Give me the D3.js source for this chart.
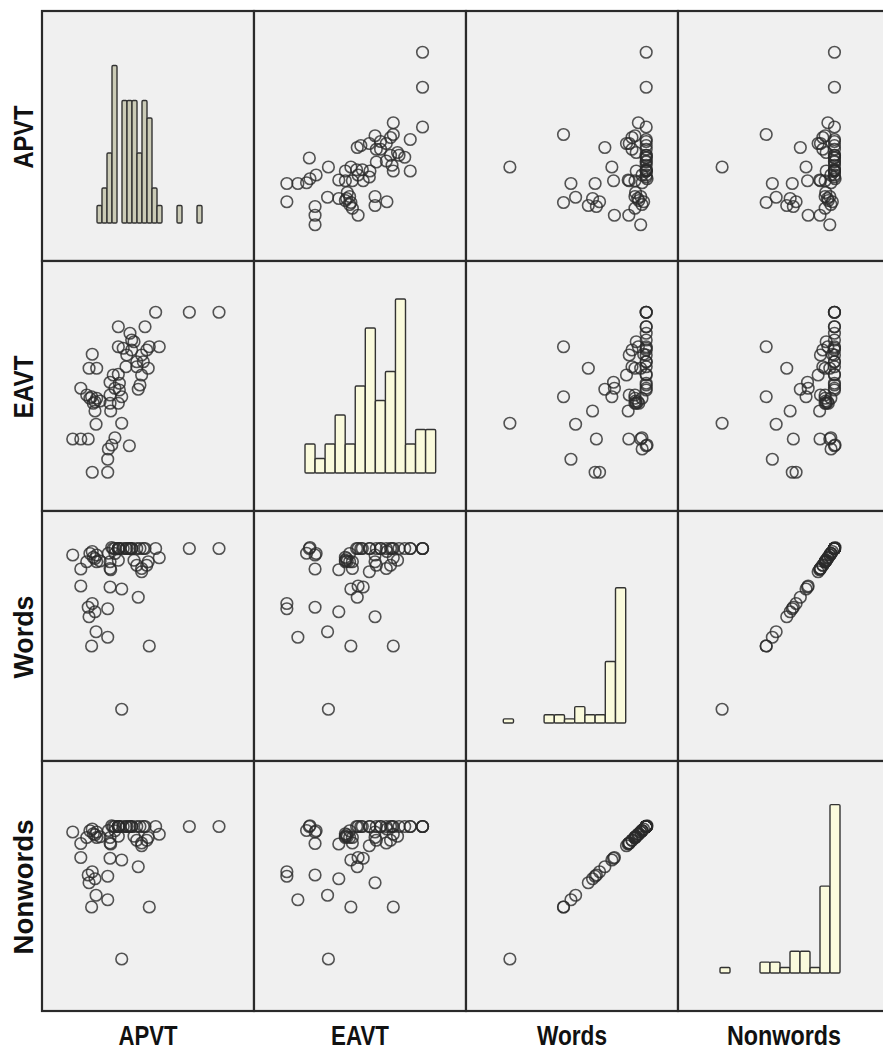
<!DOCTYPE html>
<html>
<head>
<meta charset="utf-8">
<script src="https://cdn.jsdelivr.net/npm/d3@7"></script>
<style>
  body { margin: 0; background: #fff; }
  svg { display: block; }
  .lab { font-family: "Liberation Sans", Arial, sans-serif; font-weight: bold; fill: #111; }
</style>
</head>
<body>
<svg id="chart" width="883" height="1050"></svg>
<script>
// variable names (rows top->bottom, columns left->right)
const variables = ['APVT', 'EAVT', 'Words', 'Nonwords'];

// one value per subject, same order in every array (0-100 score scale)
const apvt = [53.6, 69.5, 83.5, 36, 48.6, 41.5, 43.4, 36, 50.6, 55.3,
  40, 47, 23.7, 22.2, 25.8, 39.6, 44.7, 50.1, 36, 47,
  32.1, 36.5, 18.3, 45.4, 36.5, 21.1, 23.4, 25.8, 32.1, 37.6,
  24.2, 32.1, 36, 25, 32.4, 25.5, 37.6, 14.5, 18.3, 21.8,
  34.4, 32.9, 41.2, 31, 23.7, 31, 22.6, 27.4, 42.3, 44.7,
  33.6, 38.3, 47.8, 34.4, 46.2, 42.3, 25, 31.3, 49.4];
const eavt = [79.5, 79.5, 79.5, 73.7, 73.7, 71.1, 67.7, 65.7, 65.7, 65.7,
  62.4, 62.4, 62.7, 57.1, 57.1, 57.7, 57.7, 57.1, 54.7, 54.4,
  51.5, 51.1, 49.1, 48.7, 48.4, 46.4, 45.7, 45.1, 46.4, 45.7,
  43.1, 43.1, 43.1, 40, 40, 34.7, 35.1, 28.8, 28.8, 28.8,
  29.3, 26.4, 26.1, 20.7, 15.5, 15.5, 45.1, 44, 64.4, 59.7,
  54.4, 65.1, 59.7, 49.1, 50.4, 68.4, 43.7, 24.8, 64.4];
const words = [85, 85, 85, 85, 85, 85, 80.3, 85, 46, 81.3,
  85, 77, 83.8, 57.7, 82.4, 85, 78.3, 79.7, 85, 75.7,
  69.6, 85, 70, 65.5, 85, 79.7, 46, 79.7, 77, 68.8,
  81.5, 79.7, 80.3, 59.7, 76.5, 51.7, 20.7, 82.4, 76.8, 61.5,
  83, 85.4, 85, 49.5, 63, 60.9, 83, 80, 85, 85,
  85, 85, 85, 85, 85, 85, 81, 83.1, 78.3];
const nonwords = [73.8, 73.8, 73.8, 73.8, 73.8, 73.8, 69.9, 73.8, 41.6, 70.7,
  73.8, 67.2, 72.8, 51.3, 71.6, 73.8, 68.3, 69.4, 73.8, 66.1,
  61.1, 73.8, 61.4, 57.7, 73.8, 69.4, 41.6, 69.4, 67.2, 60.4,
  70.9, 69.4, 69.9, 52.9, 66.8, 46.3, 20.8, 71.6, 67.0, 54.4,
  72.1, 74.1, 73.8, 44.5, 55.7, 53.9, 72.1, 69.7, 73.8, 73.8,
  73.8, 73.8, 73.8, 73.8, 73.8, 73.8, 70.5, 72.2, 68.3];

// histogram counts on the diagonal (one entry per bin)
const apvtCounts = [1, 2, 4, 9, 0, 7, 7, 7, 4, 7, 6, 2, 1, 0, 0, 0, 1, 0, 0, 0, 1];
const eavtCounts = [2, 1, 2, 4, 2, 6, 10, 5, 7, 12, 2, 3, 3];
const wordsCounts = [1, 0, 0, 0, 2, 2, 1, 4, 2, 2, 15, 33];
const nonwordsCounts = [1, 0, 0, 0, 2, 2, 1, 4, 4, 1, 16, 31];

const series = [apvt, eavt, words, nonwords];
const counts = [apvtCounts, eavtCounts, wordsCounts, nonwordsCounts];

// layout
const padLeft = 42, padTop = 11, cellW = 212, cellH = 250;
const baseY = 212;
// per histogram: first bar x, bar width, pixels per count, bar fill
const histStyle = [
  { x0: 55, bw: 5, unit: 17.5, fill: '#cbcbb6' },
  { x0: 51, bw: 10.05, unit: 14.5, fill: '#fafadc' },
  { x0: 37.3, bw: 10.2, unit: 4.1, fill: '#fafadc' },
  { x0: 42, bw: 10, unit: 5.43, fill: '#fafadc' }
];

const svg = d3.select('#chart');
svg.append('rect').attr('width', 883).attr('height', 1050).attr('fill', '#fff');

const x = d3.scaleLinear().domain([0, 100]).range([0, cellW]);
const y = d3.scaleLinear().domain([0, 100]).range([cellH, 0]);

for (let i = 0; i < 4; i++) {
  for (let j = 0; j < 4; j++) {
    let g = svg.append('g')
      .attr('transform', `translate(${padLeft + j * cellW},${padTop + i * cellH})`);

    g.append('rect')
      .attr('width', cellW).attr('height', cellH)
      .attr('fill', '#f0f0f0');

    if (i === j) {
      let hs = histStyle[i];
      let c = counts[i];
      let hx = d3.scaleLinear().domain([0, c.length]).range([hs.x0, hs.x0 + hs.bw * c.length]);
      let hy = d3.scaleLinear().domain([0, 10]).range([baseY, baseY - 10 * hs.unit]);
      g.selectAll('rect.bar')
        .data(c.map((v, k) => ({ k: k, v: v })).filter(d => d.v > 0))
        .enter().append('rect')
        .attr('class', 'bar')
        .attr('x', d => hx(d.k))
        .attr('y', d => hy(d.v))
        .attr('width', d => hx(d.k + 1) - hx(d.k))
        .attr('height', d => hy(0) - hy(d.v))
        .attr('rx', 1.2)
        .attr('fill', hs.fill)
        .attr('stroke', '#333')
        .attr('stroke-width', 1.4);
    } else {
      let xs = series[j], ys = series[i];
      g.selectAll('circle')
        .data(xs.map((v, k) => [v, ys[k]]))
        .enter().append('circle')
        .attr('cx', d => x(d[0]))
        .attr('cy', d => y(d[1]))
        .attr('r', 5.8)
        .attr('fill', 'none')
        .attr('stroke', '#2a2a2a')
        .attr('stroke-opacity', 0.8)
        .attr('stroke-width', 1.6);
    }

    g.append('rect')
      .attr('width', cellW).attr('height', cellH)
      .attr('fill', 'none')
      .attr('stroke', '#2a2a2a')
      .attr('stroke-width', 2.2);
  }
}

// column labels
const colLen = [59, 58, 70, 114];
svg.selectAll('text.col')
  .data(variables)
  .enter().append('text')
  .attr('class', 'lab col')
  .attr('x', (d, j) => padLeft + j * cellW + cellW / 2)
  .attr('y', 1045)
  .attr('text-anchor', 'middle')
  .attr('font-size', 28)
  .attr('textLength', (d, j) => colLen[j])
  .attr('lengthAdjust', 'spacingAndGlyphs')
  .text(d => d);

// row labels
const rowLen = [63, 63, 83, 135];
svg.selectAll('text.row')
  .data(variables)
  .enter().append('text')
  .attr('class', 'lab row')
  .attr('transform', (d, i) => `translate(33,${padTop + i * cellH + cellH / 2 + 1}) rotate(-90)`)
  .attr('text-anchor', 'middle')
  .attr('font-size', 27)
  .attr('textLength', (d, i) => rowLen[i])
  .attr('lengthAdjust', 'spacingAndGlyphs')
  .text(d => d);
</script>
</body>
</html>
